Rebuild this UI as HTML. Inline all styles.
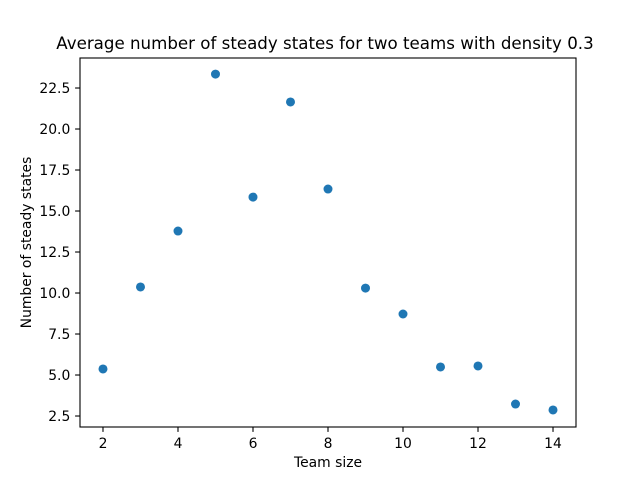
<!DOCTYPE html>
<html><head><meta charset="utf-8"><style>body{margin:0;background:#fff}svg{display:block;font-family:"DejaVu Sans","Liberation Sans",sans-serif}</style></head>
<body>
<svg id="chart" width="640" height="480" xmlns="http://www.w3.org/2000/svg">
<rect width="640" height="480" fill="#fff"/>
<text x="325" y="49" text-anchor="middle" font-size="16.67">Average number of steady states for two teams with density 0.3</text>
<g id="xt"></g><g id="yt"></g><g id="pts"></g>
<rect x="80" y="58" width="496" height="369" fill="none" stroke="#000" stroke-width="1.1"/>
<text x="328" y="467" text-anchor="middle" font-size="13.9">Team size</text>
<text transform="translate(31,242.5) rotate(-90)" text-anchor="middle" font-size="13.9">Number of steady states</text>
</svg>
<script>
const teamSizes=[2,3,4,5,6,7,8,9,10,11,12,13,14];
const steadyStates=[5.37,10.37,13.78,23.35,15.85,21.65,16.34,10.3,8.72,5.49,5.55,3.23,2.87];
const xTicks=[2,4,6,8,10,12,14];
const yTicks=[2.5,5.0,7.5,10.0,12.5,15.0,17.5,20.0,22.5];
const ns="http://www.w3.org/2000/svg";
const L=80,R=576,T=58,B=427,x0=1.387,x1=14.613,y0=1.83,y1=24.33;
const sx=v=>L+(v-x0)/(x1-x0)*(R-L), sy=v=>B-(v-y0)/(y1-y0)*(B-T);
function mk(t,a,p){const e=document.createElementNS(ns,t);for(const k in a)e.setAttribute(k,a[k]);p.appendChild(e);return e;}
const xt=document.getElementById('xt'),yt=document.getElementById('yt'),pts=document.getElementById('pts');
xTicks.forEach(v=>{const x=sx(v);
const l=mk('line',{x1:x,x2:x,y1:B,y2:B+4.9,stroke:'#000','stroke-width':1.1},xt);


const t=mk('text',{x:x,y:B+21,'text-anchor':'middle','font-size':13.9},xt);t.textContent=v;

});
yTicks.forEach(v=>{const y=sy(v);
const l=mk('line',{x1:L-4.9,x2:L,y1:y,y2:y,stroke:'#000','stroke-width':1.1},yt);


const t=mk('text',{x:L-9.7,y:y+5,'text-anchor':'end','font-size':13.9},yt);t.textContent=v.toFixed(1);

});
teamSizes.forEach((v,i)=>{const c=mk('circle',{cx:sx(v),cy:sy(steadyStates[i]),r:4.5,fill:'#1f77b4'},pts);

});
</script>
</body></html>
